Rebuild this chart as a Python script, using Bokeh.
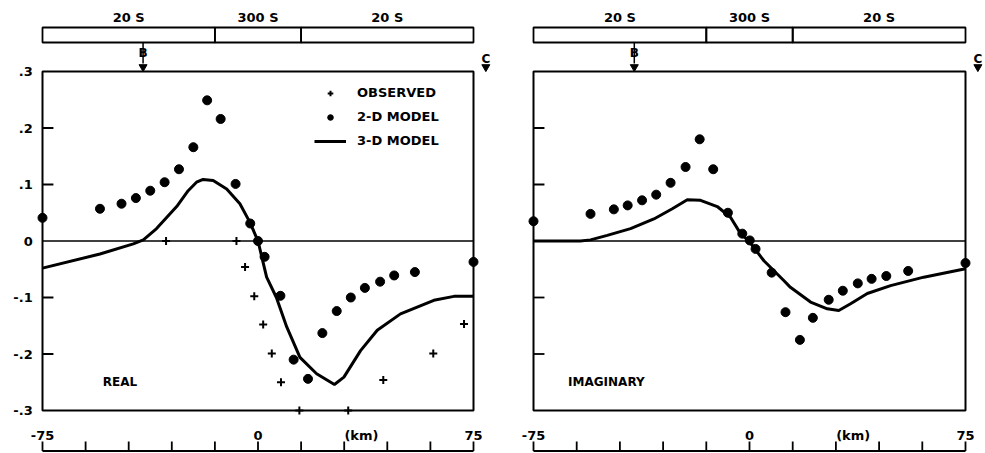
from bokeh.plotting import figure
from bokeh.layouts import row
from bokeh.models import Range1d, Legend, LegendItem
from bokeh.embed import file_html
from bokeh.resources import INLINE
from bokeh.core.properties import value

# ---------------- data ----------------
dist_ticks = [-75, -60, -45, -30, -15, 0, 15, 30, 45, 60, 75]
dist_label_pos = [-75, 0, 36, 75]
dist_label_text = ["-75", "0", "(km)", "75"]
y_ticks = [-0.3, -0.2, -0.1, 0, 0.1, 0.2, 0.3]
y_tick_labels = ["-.3", "-.2", "-.1", "0", ".1", ".2", ".3"]

period_edges = [-75, -15, 15, 75]
period_labels = ["20 S", "300 S", "20 S"]
site_x = [-40, 79.3]
site_names = ["B", "C"]

# REAL panel
real_obs_x = [-32, -7.5, -4.5, -1.3, 1.8, 4.8, 8, 14.4, 31.4, 43.6, 61, 71.7]
real_obs_y = [0, 0, -0.046, -0.098, -0.148, -0.199, -0.250, -0.3, -0.3, -0.246, -0.199, -0.147]

real_2d_x = [-75, -55, -47.5, -42.5, -37.5, -32.5, -27.5, -22.5, -17.7, -13, -7.8, -2.7,
             0, 2.3, 7.8, 12.4, 17.4, 22.4, 27.4, 32.3, 37.2, 42.5, 47.4, 54.6, 75]
real_2d_y = [0.041, 0.057, 0.066, 0.076, 0.089, 0.104, 0.127, 0.166, 0.249, 0.216, 0.101, 0.031,
             0.0, -0.028, -0.097, -0.210, -0.244, -0.163, -0.124, -0.100, -0.083, -0.072, -0.061, -0.055, -0.037]

real_3d_x = [-75, -55, -43.4, -39.9, -35.3, -28.3, -24.3, -21.4, -19.1, -15.6, -10.9, -6.3, -2.8,
             0, 3.0, 6.4, 10, 14.6, 20.4, 26.6, 29.9, 35.7, 41.5, 49.6, 61.2, 68.2, 75]
real_3d_y = [-0.048, -0.023, -0.005, 0.002, 0.022, 0.061, 0.089, 0.104, 0.109, 0.107, 0.092, 0.066, 0.033,
             0.0, -0.064, -0.100, -0.152, -0.206, -0.235, -0.254, -0.241, -0.194, -0.158, -0.129, -0.105, -0.098, -0.098]

# IMAGINARY panel
imag_2d_x = [-75, -55.2, -47.1, -42.3, -37.3, -32.4, -27.4, -22.2, -17.3, -12.6, -7.5, -2.5,
             0.1, 2.1, 7.7, 12.5, 17.5, 22.0, 27.5, 32.4, 37.6, 42.4, 47.5, 55.1, 75]
imag_2d_y = [0.035, 0.048, 0.056, 0.063, 0.072, 0.082, 0.103, 0.131, 0.180, 0.127, 0.050, 0.013,
             0.001, -0.014, -0.056, -0.126, -0.175, -0.136, -0.104, -0.088, -0.075, -0.067, -0.062, -0.053, -0.039]

imag_3d_x = [-75, -58.7, -55.2, -49.4, -41.3, -33.2, -26.8, -21.6, -17.0, -11.2, -6.6, -3.1,
             -0.2, 5.0, 11.9, 14.2, 21.2, 27.0, 31.0, 35.1, 40.9, 49.0, 60.5, 75]
imag_3d_y = [0.0, 0.0, 0.002, 0.010, 0.022, 0.039, 0.057, 0.073, 0.072, 0.061, 0.042, 0.013,
             0.0, -0.035, -0.070, -0.082, -0.108, -0.120, -0.123, -0.111, -0.093, -0.079, -0.064, -0.049]

# ---------------- layout helpers ----------------
FONT = value("DejaVu Sans")
Y0_PAGE = 240.5
PX_PER_UNIT = 565.0
H = 453


def yv(page_y):
    """convert a pixel row to a data value (layout decoration only)"""
    return (Y0_PAGE - page_y) / PX_PER_UNIT


def make_panel(width, x_start, x_end, with_labels, name, name_x, two_x, two_y, three_x, three_y,
               obs_x=None, obs_y=None):
    p = figure(width=width, height=H, x_range=Range1d(x_start, x_end),
               y_range=Range1d(yv(H), yv(0)), output_backend="svg", toolbar_location=None,
               x_axis_location=None, y_axis_location=None,
               min_border_left=0, min_border_right=0, min_border_top=0, min_border_bottom=0)
    p.outline_line_color = None
    p.grid.grid_line_color = None

    lo, hi = dist_ticks[0], dist_ticks[-1]
    # y tick labels
    if with_labels:
        p.text(x=[lo - 3.4] * len(y_ticks), y=y_ticks, text=y_tick_labels, text_font=FONT,
               text_font_style="bold", text_font_size="13px", text_align="right",
               text_baseline="middle", text_color="black")
    # box
    p.quad(left=[lo], right=[hi], bottom=[y_ticks[0]], top=[y_ticks[-1]],
           fill_color=None, line_color="black", line_width=2)
    # zero line
    p.segment(x0=[lo], x1=[hi], y0=[0], y1=[0], line_color="black", line_width=1.5)
    # inward ticks on left side
    inner = [t for t in y_ticks if t not in (y_ticks[0], y_ticks[-1], 0)]
    p.segment(x0=[lo] * len(inner), x1=[lo + 3.8] * len(inner), y0=inner, y1=inner,
              line_color="black", line_width=1.8)

    # period bar on top
    p.quad(left=period_edges[:-1], right=period_edges[1:], bottom=[yv(42)] * 3, top=[yv(27)] * 3,
           fill_color=None, line_color="black", line_width=1.8)
    centers = [(a + b) / 2 for a, b in zip(period_edges[:-1], period_edges[1:])]
    p.text(x=centers, y=[yv(17)] * 3, text=period_labels, text_font=FONT, text_font_style="bold",
           text_font_size="13px", text_align="center", text_baseline="middle", text_color="black")

    # site arrows B and C
    p.segment(x0=[site_x[0]], x1=[site_x[0]], y0=[yv(42)], y1=[yv(63)], line_color="black",
              line_width=1.5)
    p.text(x=site_x, y=[yv(52), yv(58)], text=site_names, text_font=FONT, text_font_style="bold",
           text_font_size="12px", text_align="center", text_baseline="middle", text_color="black")
    p.scatter(x=site_x, y=[yv(66.5)] * 2, marker="inverted_triangle", size=8,
              fill_color="black", line_color="black")

    # bottom distance scale
    base = yv(450.5)
    p.segment(x0=[lo], x1=[hi], y0=[base], y1=[base], line_color="black", line_width=2)
    p.segment(x0=dist_ticks, x1=dist_ticks, y0=[base] * len(dist_ticks),
              y1=[yv(441)] * len(dist_ticks), line_color="black", line_width=1.8)
    p.text(x=dist_label_pos, y=[yv(435)] * len(dist_label_pos), text=dist_label_text,
           text_font=FONT, text_font_style="bold", text_font_size="13px", text_align="center",
           text_baseline="middle", text_color="black")

    # panel name
    p.text(x=[name_x], y=[yv(381)], text=[name], text_font=FONT, text_font_style="bold",
           text_font_size="12px", text_align="left", text_baseline="middle", text_color="black")

    # data
    r3 = p.line(three_x, three_y, line_color="black", line_width=3)
    r2 = p.scatter(two_x, two_y, marker="circle", size=9, fill_color="black", line_color="black")
    ro = None
    if obs_x is not None:
        ro = p.scatter(obs_x, obs_y, marker="cross", size=8, line_color="black", line_width=2)
    return p, ro, r2, r3


PXK_L = 431 / 150.0   # pixels per km, left panel
PXK_R = 432 / 150.0   # pixels per km, right panel
W_L, W_R = 495, 490

left, ro, r2, r3 = make_panel(W_L, -75 - 42 / PXK_L, -75 + (W_L - 42) / PXK_L, True, "REAL", -54,
                              real_2d_x, real_2d_y, real_3d_x, real_3d_y, real_obs_x, real_obs_y)
right, _, _, _ = make_panel(W_R, (W_L - 749) / PXK_R, (W_L + W_R - 749) / PXK_R, False,
                            "IMAGINARY", -63, imag_2d_x, imag_2d_y, imag_3d_x, imag_3d_y)

legend = Legend(items=[LegendItem(label="OBSERVED", renderers=[ro]),
                       LegendItem(label="2-D MODEL", renderers=[r2]),
                       LegendItem(label="3-D MODEL", renderers=[r3])],
                location=(314, 305), orientation="vertical",
                border_line_color=None, background_fill_alpha=0,
                label_text_font="DejaVu Sans", label_text_font_style="bold",
                label_text_font_size="13px", label_text_color="black",
                glyph_width=32, glyph_height=14,
                label_height=14, label_standoff=11, spacing=9, padding=0, margin=0)
left.add_layout(legend)

layout = row(left, right)
open("out.html", "w").write(file_html(layout, INLINE))
